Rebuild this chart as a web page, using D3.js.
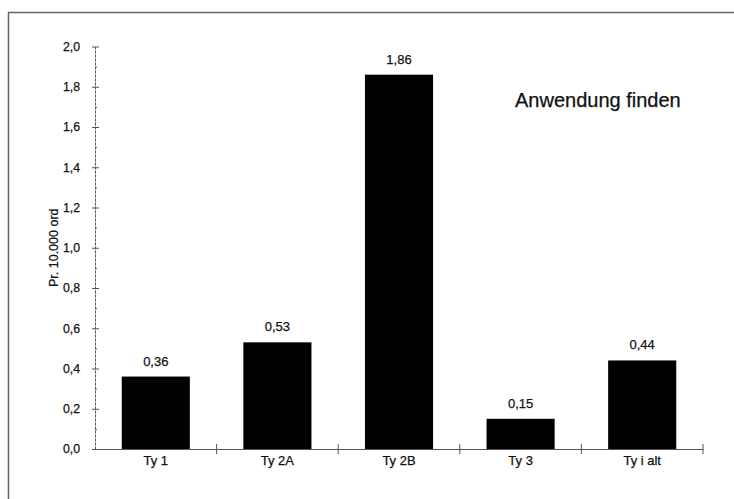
<!DOCTYPE html>
<html>
<head>
<meta charset="utf-8">
<script src="https://cdn.jsdelivr.net/npm/d3@7/dist/d3.min.js"></script>
<style>
  html, body { margin: 0; padding: 0; background: #fff; }
  svg { display: block; font-family: "Liberation Sans", Arial, Helvetica, sans-serif; }
</style>
</head>
<body>
<svg id="chart" width="734" height="499"></svg>
<script>
// Occurrences per 10,000 words, by type
const categories = ["Ty 1", "Ty 2A", "Ty 2B", "Ty 3", "Ty i alt"];
const values = [0.36, 0.53, 1.86, 0.15, 0.44];
const valueLabels = ["0,36", "0,53", "1,86", "0,15", "0,44"];
const yTicks = [0, 0.2, 0.4, 0.6, 0.8, 1.0, 1.2, 1.4, 1.6, 1.8, 2.0];
const yMinorTicks = [0.1, 0.3, 0.5, 0.7, 0.9, 1.1, 1.3, 1.5, 1.7, 1.9];
const yTitle = "Pr. 10.000 ord";
const chartNote = "Anwendung finden";

const svg = d3.select("#chart");
const axisColor = "#555";
const textColor = "#111";
const fmt = d => d.toFixed(1).replace(".", ",");

const plot = { left: 95, right: 703, top: 46.5, bottom: 449 };

const x = d3.scaleBand()
  .domain(categories)
  .range([plot.left, plot.right])
  .paddingInner(0.44)
  .paddingOuter(0.22);

const y = d3.scaleLinear()
  .domain([0, 2.0])
  .range([plot.bottom, plot.top]);

// slightly heavier glyphs, like print
const inked = sel => sel.attr("fill", textColor).attr("stroke", textColor).attr("stroke-width", 0.25);

// Frame around the figure
svg.append("path")
  .attr("d", `M8.5,499 L8.5,12.5 L734,12.5`)
  .attr("fill", "none")
  .attr("stroke", "#666")
  .attr("stroke-width", 1.5);

// Bars
svg.append("g")
  .selectAll("rect")
  .data(categories)
  .join("rect")
  .attr("x", d => x(d))
  .attr("width", x.bandwidth())
  .attr("y", (d, i) => y(values[i]))
  .attr("height", (d, i) => y(0) - y(values[i]))
  .attr("fill", "#000");

// Value labels above bars
svg.append("g")
  .selectAll("text")
  .data(categories)
  .join("text")
  .attr("x", d => x(d) + x.bandwidth() / 2)
  .attr("y", (d, i) => y(values[i]) - 11)
  .attr("text-anchor", "middle")
  .attr("font-size", 13)
  .call(inked)
  .text((d, i) => valueLabels[i]);

// Y axis: labels + left half of major ticks
const yAxisL = svg.append("g")
  .attr("transform", `translate(${plot.left},0)`)
  .call(d3.axisLeft(y).tickValues(yTicks).tickFormat(fmt).tickSizeInner(3).tickSizeOuter(0).tickPadding(12));
// right half of major ticks
const yAxisR = svg.append("g")
  .attr("transform", `translate(${plot.left},0)`)
  .call(d3.axisRight(y).tickValues(yTicks).tickFormat("").tickSizeInner(4).tickSizeOuter(0));
// minor ticks
const yAxisM = svg.append("g")
  .attr("transform", `translate(${plot.left},0)`)
  .call(d3.axisRight(y).tickValues(yMinorTicks).tickFormat("").tickSizeInner(2).tickSizeOuter(0));
yAxisR.select(".domain").remove();
yAxisM.select(".domain").remove();
[yAxisL, yAxisR, yAxisM].forEach(g => {
  g.selectAll("line").attr("stroke", axisColor);
  g.select(".domain").attr("stroke", axisColor).attr("stroke-dasharray", "3,1");
});
yAxisL.selectAll("text").attr("font-size", 12.3)
  .attr("font-family", '"Liberation Sans", Arial, sans-serif').call(inked);

// X axis: category labels under each band
const xAxis = svg.append("g")
  .attr("transform", `translate(0,${plot.bottom})`)
  .call(d3.axisBottom(x).tickSize(0).tickSizeOuter(0).tickPadding(7));
xAxis.select(".domain").attr("stroke", axisColor);
xAxis.selectAll("text").attr("font-size", 13)
  .attr("font-family", '"Liberation Sans", Arial, sans-serif').call(inked);

// Tick marks at category boundaries
const boundaries = categories.map((d, i) => plot.left + x.step() * (i + 1));
svg.append("g")
  .selectAll("line")
  .data(boundaries)
  .join("line")
  .attr("x1", d => d).attr("x2", d => d)
  .attr("y1", plot.bottom - 5).attr("y2", plot.bottom + 5)
  .attr("stroke", axisColor);

// Y axis title
svg.append("text")
  .attr("transform", `translate(58,${(plot.top + plot.bottom) / 2}) rotate(-90)`)
  .attr("text-anchor", "middle")
  .attr("font-size", 12.5)
  .call(inked)
  .text(yTitle);

// Note in the upper right
svg.append("text")
  .attr("x", 515)
  .attr("y", 107)
  .attr("font-size", 20)
  .call(inked)
  .text(chartNote);
</script>
</body>
</html>
